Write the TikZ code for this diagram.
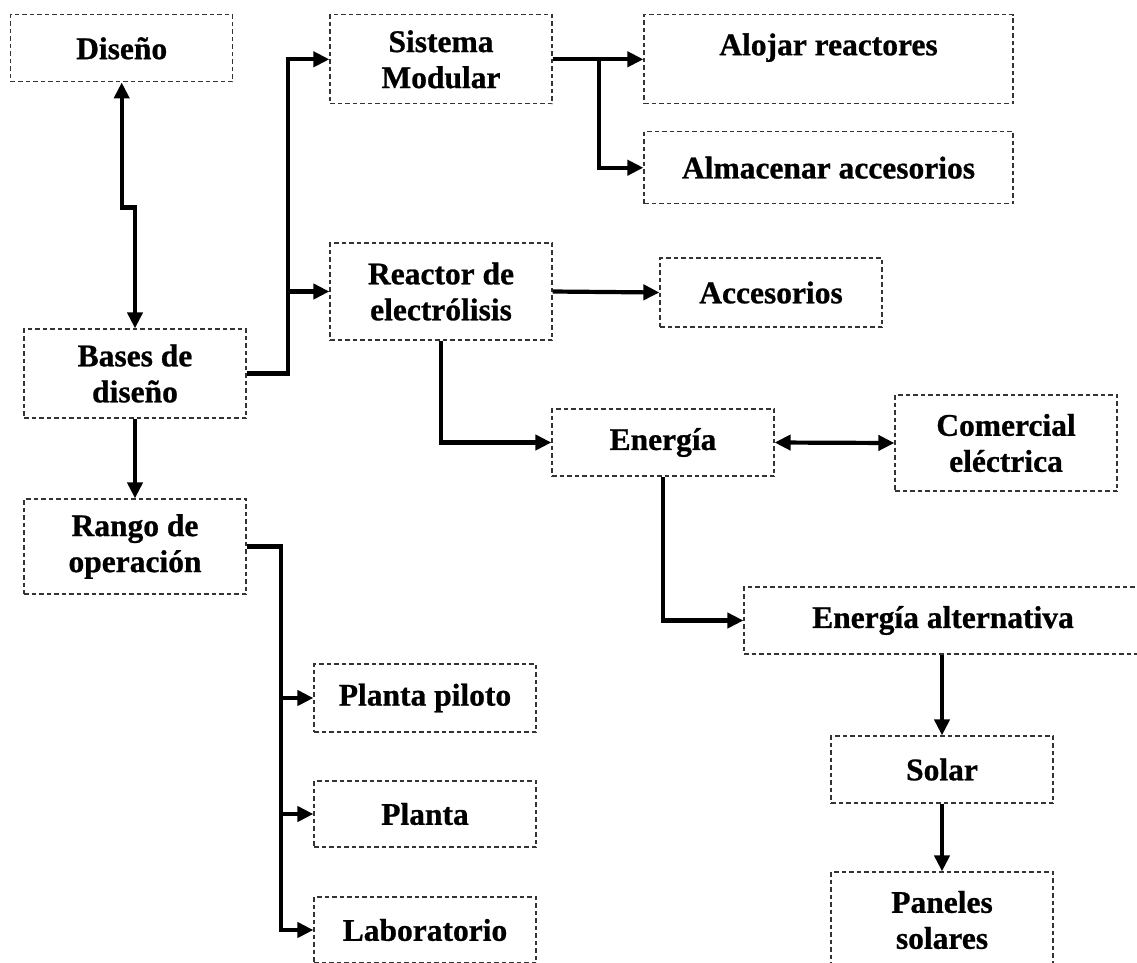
\documentclass[tikz,border=0pt]{standalone}
\usepackage{fontspec}
\setmainfont{Liberation Serif}[BoldFeatures={FakeBold=0.8}]
\usetikzlibrary{arrows.meta}

\begin{document}
\begin{tikzpicture}[x=1pt,y=-1pt,
  caja/.style={draw=black!80,line width=1.2pt,dash pattern=on 4.5pt off 3pt,
    minimum width=222pt,inner sep=0pt,align=center,
    font=\fontsize{31.5pt}{36pt}\selectfont\bfseries},
  flecha/.style={line width=4.2pt,-{Triangle[length=16pt,width=15pt]}},
  flechas/.style={line width=4.2pt,{Triangle[length=16pt,width=15pt]}-{Triangle[length=16pt,width=15pt]}}]
\useasboundingbox (0,0) rectangle (1137,962);
\clip (0,0) rectangle (1137,962);

    \node[caja,minimum height=67pt] (dis) at (121.7,48.3) {Diseño};
    \node[caja,minimum height=89pt] (bas) at (135,373.5) {Bases de\\diseño};
    \node[caja,minimum height=95pt] (ran) at (135,546.5) {Rango de\\operación};

    \node[caja,minimum height=89pt] (sis) at (441,59.3) {Sistema\\Modular};
    \node[caja,minimum height=97pt] (rea) at (441,291.5) {Reactor de\\electrólisis};
    \node[caja,minimum width=369pt,minimum height=89pt,text depth=30pt] (alo) at (828.5,59.3) {Alojar reactores};
    \node[caja,minimum width=369pt,minimum height=72pt] (alm) at (828.5,167.7) {Almacenar accesorios};
    \node[caja,minimum height=69pt] (acc) at (771,292.5) {Accesorios};

    \node[caja,minimum height=67pt] (ene) at (663,442.5) {Energía};
    \node[caja,minimum height=96pt] (com) at (1006,443) {Comercial\\eléctrica};
    \node[caja,minimum width=398pt,minimum height=67pt] (alt) at (943,620.5) {Energía alternativa};
    \node[caja,minimum height=67pt] (sol) at (942,769.5) {Solar};
    \node[caja,minimum height=96pt] (pan) at (942,920) {Paneles\\solares};

    \node[caja,minimum height=68pt] (pp) at (425,698) {Planta piloto};
    \node[caja,minimum height=66pt] (pla) at (425,814) {Planta};
    \node[caja,minimum height=66pt] (lab) at (425,930) {Laboratorio};

% conectores
\draw[flechas] (dis.south) -- ++(0,125) -| (bas.north);
\draw[flecha] (bas.east) -- ++(41,0) |- (sis.west);
\draw[flecha] (bas.east) -- ++(41,0) |- (rea.west);
\draw[flecha] (bas.south) -- (ran.north);
\draw[flecha] (sis.east) -- (alo.west);
\draw[flecha] (sis.east) -- ++(46,0) |- (alm.west);
\draw[flecha] (rea.east) -- (acc.west);
\draw[flecha] (rea.south) |- (ene.west);
\draw[flechas] (ene.east) -- (com.west);
\draw[flecha] (ene.south) |- (alt.west);
\draw[flecha] (sol.north |- alt.south) -- (sol.north);
\draw[flecha] (sol.south) -- (pan.north);
\draw[flecha] (ran.east) -- ++(34,0) |- (pp.west);
\draw[flecha] (ran.east) -- ++(34,0) |- (pla.west);
\draw[flecha] (ran.east) -- ++(34,0) |- (lab.west);
\end{tikzpicture}
\end{document}
